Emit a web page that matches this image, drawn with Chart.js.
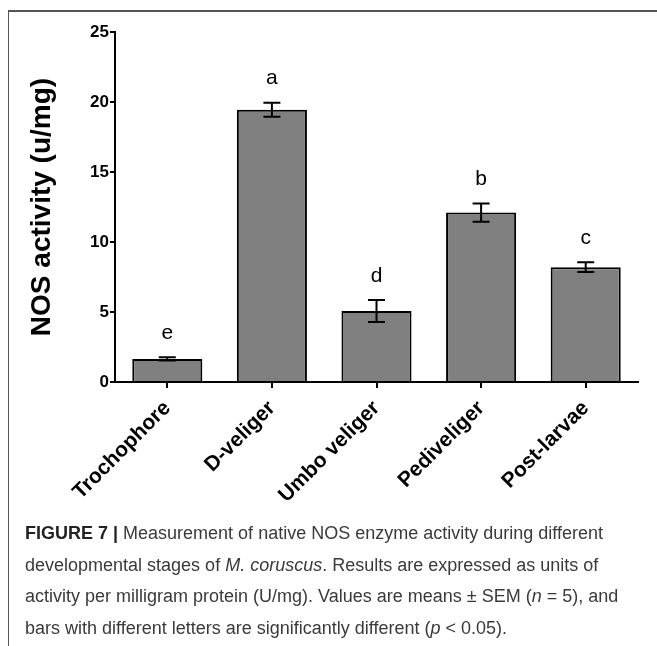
<!DOCTYPE html>
<html>
<head>
<meta charset="utf-8">
<script src="https://cdn.jsdelivr.net/npm/chart.js@4.4.0/dist/chart.umd.min.js"></script>
<style>
  html, body { margin: 0; padding: 0; background: #fff; }
  body { width: 657px; height: 646px; position: relative; overflow: hidden; }
  #frame {
    position: absolute; left: 8px; top: 10px; width: 700px; height: 700px;
    border-top: 2px solid #555; border-left: 1.5px solid #555;
  }
  #wrap { position: absolute; left: 0; top: 0; width: 657px; height: 520px; }
  #caption {
    position: absolute; left: 25px; top: 518px;
    font-family: "Liberation Sans", Arial, sans-serif;
    font-size: 18px; line-height: 31.5px; color: #3a3a3a;
    white-space: nowrap;
  }
  #caption b { color: #222; }
</style>
</head>
<body>
<div id="frame"></div>
<div id="wrap"><canvas id="chart" width="657" height="520"></canvas></div>
<div id="caption">
  <b>FIGURE 7 |</b> Measurement of native NOS enzyme activity during different<br>
  developmental stages of <i>M. coruscus</i>. Results are expressed as units of<br>
  activity per milligram protein (U/mg). Values are means &plusmn; SEM (<i>n</i> = 5), and<br>
  bars with different letters are significantly different (<i>p</i> &lt; 0.05).
</div>
<script>
// developmental stages and NOS activity (means, SEM)
const stages = ['Trochophore', 'D-veliger', 'Umbo veliger', 'Pediveliger', 'Post-larvae'];
const means = [1.65, 19.45, 5.07, 12.1, 8.2];
const sem = [0.12, 0.5, 0.78, 0.65, 0.35];
const letters = ['e', 'a', 'd', 'b', 'c'];
const yMin = 0, yMax = 25, yStep = 5;

const FONT = '"Liberation Sans", Arial, sans-serif';

// draws the SEM whiskers and the significance letters above each bar
const errorBars = {
    id: 'errorBars',
    afterDatasetsDraw(chart) {
        const ctx = chart.ctx;
        const y = chart.scales.y;
        const meta = chart.getDatasetMeta(0);
        ctx.save();
        ctx.strokeStyle = '#000';
        ctx.lineWidth = 2;
        meta.data.forEach((bar, i) => {
            const top = y.getPixelForValue(means[i] + sem[i]);
            const bot = y.getPixelForValue(means[i] - sem[i]);
            const cap = 8.5;
            ctx.beginPath();
            ctx.moveTo(bar.x, top); ctx.lineTo(bar.x, bot);
            ctx.moveTo(bar.x - cap, top); ctx.lineTo(bar.x + cap, top);
            ctx.moveTo(bar.x - cap, bot); ctx.lineTo(bar.x + cap, bot);
            ctx.stroke();

            ctx.fillStyle = '#000';
            ctx.font = '21px ' + FONT;
            ctx.textAlign = 'center';
            ctx.textBaseline = 'middle';
            ctx.fillText(letters[i], bar.x, top - 24);
        });
        ctx.restore();
    }
};

new Chart(document.getElementById('chart'), {
    type: 'bar',
    data: {
        labels: stages,
        datasets: [{
            data: means,
            backgroundColor: '#808080',
            borderColor: '#000',
            borderWidth: 2,
            borderSkipped: 'start',
            barPercentage: 0.67,
            categoryPercentage: 1
        }]
    },
    options: {
        responsive: false,
        animation: false,
        events: [],
        layout: { padding: { left: 21, top: 32, right: 19, bottom: 0 } },
        plugins: {
            legend: { display: false },
            tooltip: { enabled: false }
        },
        scales: {
            x: {
                offset: true,
                grid: { offset: false, drawOnChartArea: false, tickLength: 6, color: '#000', lineWidth: 2 },
                border: { color: '#000', width: 2 },
                ticks: {
                    color: '#000',
                    font: { family: FONT, size: 21, weight: 'bold' },
                    maxRotation: 45, minRotation: 45,
                    padding: 8
                },
                afterFit(scale) { scale.height = 520 - 382; }
            },
            y: {
                min: yMin, max: yMax,
                grid: { drawOnChartArea: false, tickLength: 5, color: '#000', lineWidth: 2 },
                border: { color: '#000', width: 2 },
                ticks: {
                    stepSize: yStep,
                    color: '#000',
                    padding: 1,
                    font: { family: FONT, size: 17, weight: 'bold' }
                },
                title: {
                    display: true,
                    text: 'NOS activity (u/mg)',
                    color: '#000',
                    font: { family: FONT, size: 28, weight: 'bold' },
                    padding: { top: 4, bottom: 4 }
                },
                afterFit(scale) { scale.width = 115 - 21; }
            }
        }
    },
    plugins: [errorBars]
});
</script>
</body>
</html>
